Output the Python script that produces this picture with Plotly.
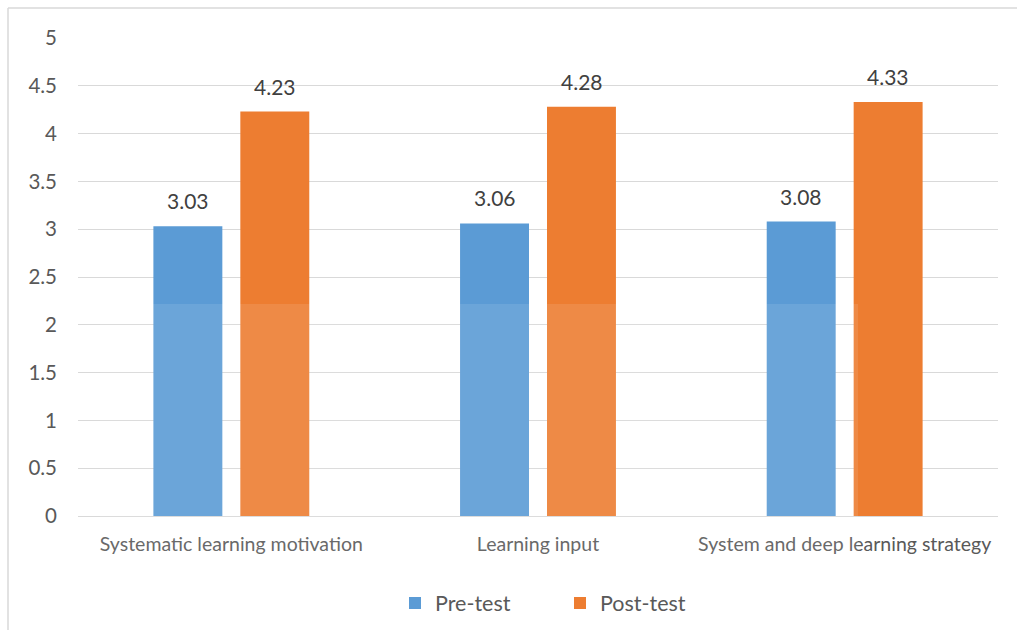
import plotly.graph_objects as go

categories = ["Systematic learning motivation", "Learning input", "System and deep learning strategy"]
pre_test = [3.03, 3.06, 3.08]
post_test = [4.23, 4.28, 4.33]
y_ticks = [0, 0.5, 1, 1.5, 2, 2.5, 3, 3.5, 4, 4.5, 5]

BLUE = "#5B9BD5"
ORANGE = "#ED7D31"
FONT = "Lato"

W, H = 1017, 630
L, R, T, B = 78, 19, 38, 114
PW, PH = W - L - R, H - T - B


def px_x(px):
    return (px - L) / PW


def px_y(py):
    return (H - B - py) / PH


fig = go.Figure()
fig.add_trace(go.Bar(name="Pre-test", x=categories, y=pre_test, marker=dict(color=BLUE, line_width=0)))
fig.add_trace(go.Bar(name="Post-test", x=categories, y=post_test, marker=dict(color=ORANGE, line_width=0)))

# value labels above each bar
for vals, shift in ((pre_test, -43.5), (post_test, 43.5)):
    for c, v in zip(categories, vals):
        fig.add_annotation(x=c, y=v, text=f"{v:.2f}", showarrow=False, xshift=shift,
                           yanchor="bottom", yshift=11,
                           font=dict(family=FONT, size=21, color="#404040"))

shapes = [
    # chart frame (top and left edges)
    dict(type="line", xref="paper", yref="paper", x0=px_x(8), x1=px_x(W + 5), y0=px_y(8), y1=px_y(8),
         line=dict(color="#D9D9D9", width=1.5)),
    dict(type="line", xref="paper", yref="paper", x0=px_x(8), x1=px_x(8), y0=px_y(8), y1=px_y(H + 5),
         line=dict(color="#D9D9D9", width=1.5)),
    # faint light wash over the lower part of the chart
    dict(type="rect", xref="paper", yref="paper", x0=px_x(100), x1=px_x(858), y0=px_y(304), y1=px_y(H + 5),
         fillcolor="white", opacity=0.1, line_width=0, layer="above"),
]

fig.update_layout(
    width=W, height=H,
    margin=dict(l=L, r=R, t=T, b=B, autoexpand=False),
    paper_bgcolor="white", plot_bgcolor="white",
    barmode="group", bargap=0.433, bargroupgap=0.207,
    font=dict(family=FONT, size=19.5, color="#595959"),
    showlegend=True,
    legend=dict(orientation="h", x=px_x(395), xanchor="left", y=px_y(603), yanchor="middle",
                font=dict(family=FONT, size=21.5, color="#595959"),
                entrywidth=120, entrywidthmode="pixels", itemwidth=30),
    shapes=shapes,
    xaxis=dict(showgrid=False, showline=False, ticks="", ticklabelstandoff=14,
               tickfont=dict(family=FONT, size=19.5, color="#595959")),
    yaxis=dict(range=[0, 5], tickvals=y_ticks, ticktext=[f"{t:g}" for t in y_ticks],
               showgrid=True, gridcolor="#D9D9D9", gridwidth=1.3,
               zeroline=True, zerolinecolor="#D9D9D9", zerolinewidth=1.3,
               showline=False, ticks="", ticklabelstandoff=20,
               tickfont=dict(family=FONT, size=20.5, color="#595959")),
)

fig.write_html("out.html")
